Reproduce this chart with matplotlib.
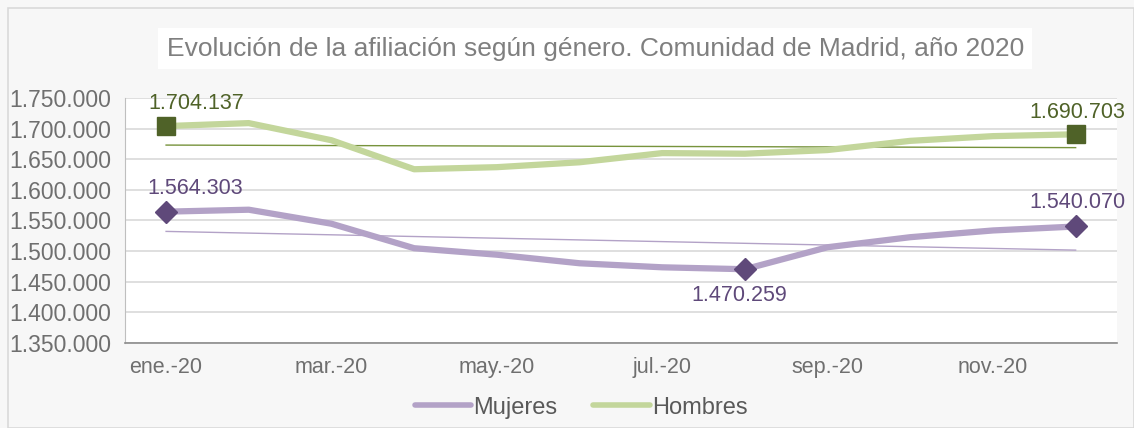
import numpy as np
import matplotlib.pyplot as plt
from matplotlib.patches import Rectangle

plt.rcParams['font.family'] = ['Liberation Sans', 'DejaVu Sans']

meses = ['ene.-20', 'feb.-20', 'mar.-20', 'abr.-20', 'may.-20', 'jun.-20',
         'jul.-20', 'ago.-20', 'sep.-20', 'oct.-20', 'nov.-20', 'dic.-20']
mujeres = [1564303, 1567500, 1544600, 1504600, 1494000, 1480000,
           1473400, 1470259, 1506200, 1522600, 1533600, 1540070]
hombres = [1704137, 1709000, 1681000, 1633600, 1637000, 1645000,
           1660000, 1659000, 1665000, 1680000, 1687700, 1690703]
yticks = list(range(1350000, 1750001, 50000))

c_muj, c_muj_dark = '#b3a2c7', '#5f497a'
c_hom, c_hom_dark = '#c3d69b', '#4f6228'
txt = '#6f6f6f'

def fmt(v):
    return f'{v:,}'.replace(',', '.')

fig = plt.figure(figsize=(11.34, 4.28), dpi=100, facecolor='#f7f7f7')
fig.patches.append(Rectangle((0.007, 0.0), 0.993, 0.982, transform=fig.transFigure,
                             fill=False, edgecolor='#d9d9d9', linewidth=1.2))
ax = fig.add_axes([0.110, 0.199, 0.875, 0.572])
ax.set_facecolor('white')

x = np.arange(len(meses))
ax.plot(x, mujeres, color=c_muj, linewidth=4.5, label='Mujeres', solid_capstyle='butt', zorder=3)
ax.plot(x, hombres, color=c_hom, linewidth=4.5, label='Hombres', solid_capstyle='butt', zorder=3)

# linear trend lines
for serie, col in [(mujeres, c_muj), (hombres, '#77933c')]:
    p = np.polyfit(x, serie, 1)
    ax.plot(x, np.polyval(p, x), color=col, linewidth=1, zorder=2)

# highlighted points (first label sits a bit to the right, as in the original)
imin = int(np.argmin(mujeres))
last = len(x) - 1
for i in [0, imin, last]:
    ax.plot(x[i], mujeres[i], marker='D', markersize=11, color=c_muj_dark, zorder=4)
    dx = 21 if i == 0 else (-4 if i == imin else 1)
    dy = -19 if i == imin else 17
    ax.annotate(fmt(mujeres[i]), (x[i], mujeres[i]), xytext=(dx, dy), textcoords='offset points',
                ha='center', va='center', fontsize=15.5, color=c_muj_dark)
for i in [0, last]:
    ax.plot(x[i], hombres[i], marker='s', markersize=13, color=c_hom_dark, zorder=4)
    dx = 22 if i == 0 else 1
    ax.annotate(fmt(hombres[i]), (x[i], hombres[i]), xytext=(dx, 16), textcoords='offset points',
                ha='center', va='center', fontsize=15.5, color=c_hom_dark)

ax.set_xlim(-0.5, len(x) - 0.5)
ax.set_ylim(yticks[0], yticks[-1])
ax.set_yticks(yticks)
ax.set_yticklabels([fmt(v) for v in yticks], fontsize=16.5, color=txt)
ax.set_xticks(x[::2])
ax.set_xticklabels(meses[::2], fontsize=15.5, color=txt)
ax.tick_params(axis='y', length=0, pad=10)
ax.tick_params(axis='x', length=0, pad=10)
ax.grid(axis='y', color='#d9d9d9', linewidth=1.2)
ax.set_axisbelow(True)
for s in ['top', 'right']:
    ax.spines[s].set_visible(False)
ax.spines['left'].set_color('#bfbfbf')
ax.spines['bottom'].set_color('#8c8c8c')
ax.spines['bottom'].set_linewidth(1.2)

fig.text(0.525, 0.886, 'Evolución de la afiliación según género. Comunidad de Madrid, año 2020',
         ha='center', va='center', fontsize=19, color='#7f7f7f',
         bbox=dict(facecolor='white', edgecolor='none', pad=6))

leg = ax.legend(loc='center', bbox_to_anchor=(0.46, -0.265), ncol=2, frameon=False,
                fontsize=17, handlelength=2.4, columnspacing=1.5, handletextpad=0.1)
for t in leg.get_texts():
    t.set_color('#595959')
for h in leg.get_lines():
    h.set_linewidth(4)
    h.set_solid_capstyle('round')

fig.savefig('out.png', dpi=100, facecolor=fig.get_facecolor())
